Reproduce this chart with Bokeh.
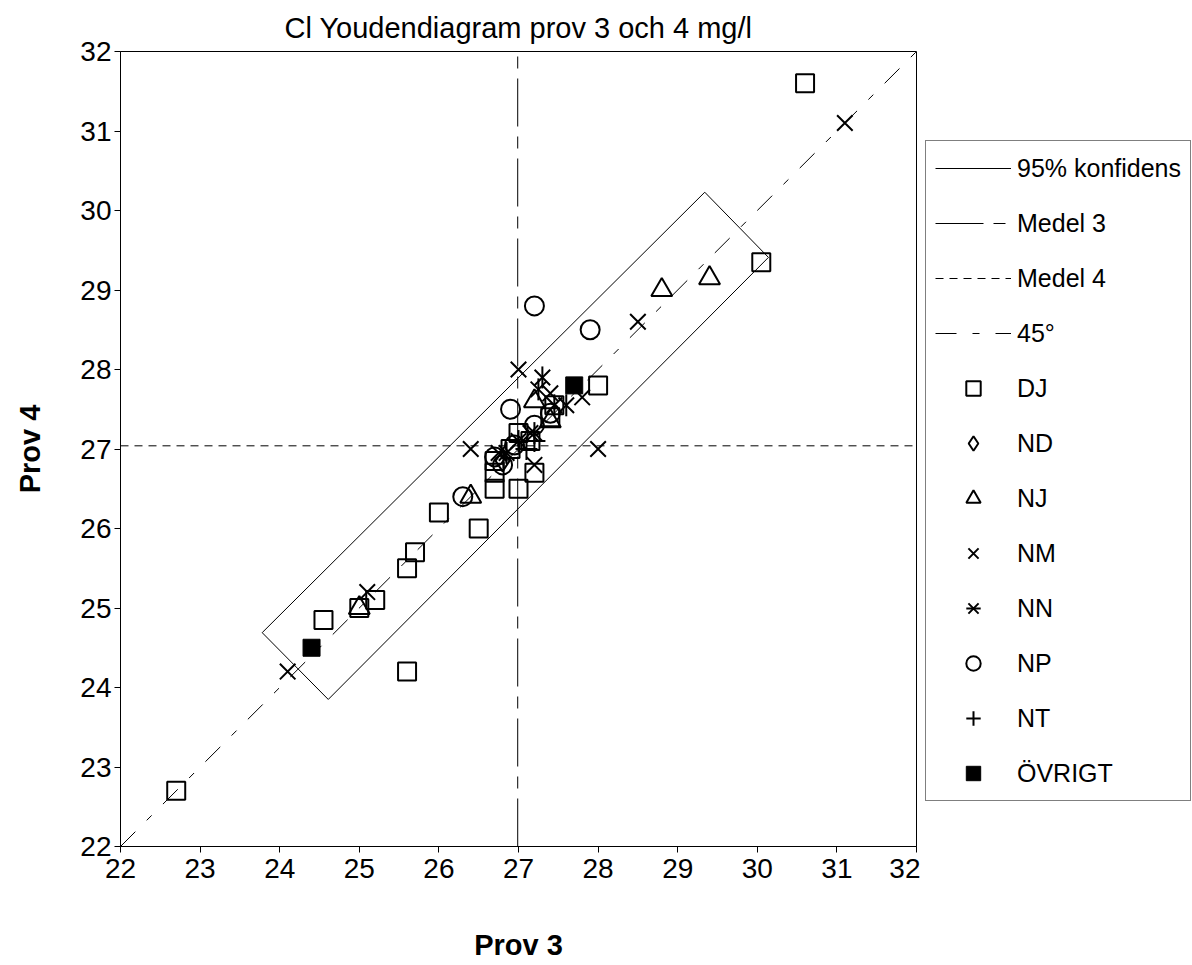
import math
from bokeh.plotting import figure
from bokeh.layouts import row
from bokeh.models import Legend, LegendItem, Range1d, FixedTicker
from bokeh.embed import file_html
from bokeh.resources import INLINE

# ---------------- data ----------------
title_text = "Cl Youdendiagram prov 3 och 4 mg/l"
x_label = "Prov 3"
y_label = "Prov 4"
ticks = [22, 23, 24, 25, 26, 27, 28, 29, 30, 31, 32]

mean3 = 26.99
mean4 = 27.04

# 95 % confidence rectangle corners
conf_x = [23.78, 24.61, 30.14, 29.34, 23.78]
conf_y = [24.69, 23.85, 29.41, 30.23, 24.69]

DJ_x = [22.7, 24.55, 25.0, 25.2, 25.6, 25.7, 25.6, 26.0, 26.5, 26.7, 26.7, 26.7, 27.0, 26.9, 27.2, 27.0, 27.15, 27.4, 27.45, 28.0, 30.05, 30.6]
DJ_y = [22.7, 24.85, 25.0, 25.1, 25.5, 25.7, 24.2, 26.2, 26.0, 26.5, 26.7, 26.85, 26.5, 27.0, 26.7, 27.2, 27.1, 27.4, 27.55, 27.8, 29.35, 31.6]

ND_x = [26.8]
ND_y = [26.85]

NJ_x = [25.0, 26.4, 27.2, 27.4, 28.8, 29.4]
NJ_y = [25.0, 26.4, 27.6, 27.35, 29.0, 29.15]

NM_x = [24.1, 25.1, 26.4, 26.75, 27.0, 27.2, 27.15, 27.4, 27.8, 28.0, 28.5, 31.1]
NM_y = [24.2, 25.2, 27.0, 26.95, 28.0, 26.8, 27.2, 27.7, 27.65, 27.0, 28.6, 31.1]

NN_x = [26.85, 27.0, 27.2, 27.25, 27.3, 27.45, 27.6]
NN_y = [26.95, 27.1, 27.2, 27.75, 27.9, 27.55, 27.55]

NP_x = [26.3, 26.7, 26.8, 26.95, 27.2, 26.9, 27.9, 27.2, 27.4]
NP_y = [26.4, 26.9, 26.8, 27.05, 27.3, 27.5, 28.5, 28.8, 27.45]

NT_x = [27.2, 27.1]
NT_y = [27.1, 27.0]

OV_x = [24.4, 27.7]
OV_y = [24.5, 27.8]

legend_labels = ["95% konfidens", "Medel 3", "Medel 4", "45\u00b0", "DJ", "ND",
                 "NJ", "NM", "NN", "NP", "NT", "\u00d6VRIGT"]

# ---------------- styles ----------------
FONT = "Liberation Sans"
LW = 2
LINE_STYLES = {
    "conf": dict(line_color="black", line_width=1),
    "m3": dict(line_color="black", line_width=1, line_dash="48 10 12 10"),
    "m4": dict(line_color="black", line_width=1, line_dash="8 6"),
    "d45": dict(line_color="black", line_width=1, line_dash="21 16 7 16"),
}
HOLLOW = dict(fill_color="white", fill_alpha=0, line_color="black", line_width=LW)
MARKER_STYLES = {
    "DJ": [dict(marker="square", size=18, **HOLLOW)],
    "ND": [dict(marker="diamond", size=21, **HOLLOW)],
    "NJ": [dict(marker="triangle", size=21, **HOLLOW)],
    "NM": [dict(marker="x", size=22, line_color="black", line_width=LW)],
    "NN": [dict(marker="x", size=22, line_color="black", line_width=LW),
           dict(marker="dash", angle=math.pi / 2, size=22, line_color="black", line_width=LW)],
    "NP": [dict(marker="circle", size=19, **HOLLOW)],
    "NT": [dict(marker="cross", size=22, line_color="black", line_width=LW)],
    "OV": [dict(marker="square", size=17, fill_color="black", line_color="black", line_width=1)],
}

lo, hi = ticks[0], ticks[-1]

# ---------------- main figure ----------------
p = figure(width=920, height=965, output_backend="svg", toolbar_location=None,
           x_range=Range1d(lo, hi), y_range=Range1d(lo, hi),
           min_border_left=120, min_border_right=4,
           min_border_top=51, min_border_bottom=119,
           background_fill_color="white", border_fill_color="white")

p.grid.visible = False
p.outline_line_color = "black"
p.outline_line_width = 1

p.title.text = title_text
p.title.align = "center"
p.title.text_font = FONT
p.title.text_font_size = "29px"
p.title.text_font_style = "normal"
p.title.text_color = "black"
p.title.standoff = 16

for ax in (p.xaxis, p.yaxis):
    ax.ticker = FixedTicker(ticks=ticks)
    ax.minor_tick_line_color = None
    ax.major_tick_in = 0
    ax.major_tick_out = 6
    ax.major_tick_line_color = "black"
    ax.axis_line_color = "black"
    ax.major_label_text_font = FONT
    ax.major_label_text_font_size = "28px"
    ax.major_label_text_color = "black"
    ax.axis_label_text_font = FONT
    ax.axis_label_text_font_size = "29px"
    ax.axis_label_text_font_style = "bold"
    ax.axis_label_text_color = "black"

p.xaxis.axis_label = x_label
p.yaxis.axis_label = y_label
p.xaxis.axis_label_standoff = 48
p.yaxis.axis_label_standoff = 31
p.xaxis.major_label_standoff = 6
p.yaxis.major_label_standoff = 3

p.line(conf_x, conf_y, **LINE_STYLES["conf"])
p.line([mean3, mean3], [lo, hi], **LINE_STYLES["m3"])
p.line([lo, hi], [mean4, mean4], **LINE_STYLES["m4"])
p.line([lo, hi], [lo, hi], **LINE_STYLES["d45"])

series = {"DJ": (DJ_x, DJ_y), "ND": (ND_x, ND_y), "NJ": (NJ_x, NJ_y),
          "NM": (NM_x, NM_y), "NN": (NN_x, NN_y), "NP": (NP_x, NP_y),
          "NT": (NT_x, NT_y), "OV": (OV_x, OV_y)}
for key, (xs, ys) in series.items():
    for st in MARKER_STYLES[key]:
        p.scatter(xs, ys, **st)

# ---------------- legend panel (second figure; its own view shows no data) ----------------
p2 = figure(width=272, height=965, output_backend="svg", toolbar_location=None,
            x_range=Range1d(0, 1), y_range=Range1d(0, 1),
            x_axis_type=None, y_axis_type=None, min_border=0,
            min_border_top=51, min_border_bottom=119,
            outline_line_color=None, background_fill_color="white",
            border_fill_color="white")
p2.grid.visible = False

leg_renderers = [
    [p2.line(conf_x, conf_y, **LINE_STYLES["conf"])],
    [p2.line([mean3, mean3], [lo, hi], **LINE_STYLES["m3"])],
    [p2.line([lo, hi], [mean4, mean4], **LINE_STYLES["m4"])],
    [p2.line([lo, hi], [lo, hi], **LINE_STYLES["d45"])],
]
for key in ["DJ", "ND", "NJ", "NM", "NN", "NP", "NT", "OV"]:
    xs, ys = series[key]
    leg_renderers.append([p2.scatter(xs, ys, **st) for st in MARKER_STYLES[key]])

items = [LegendItem(label=lab, renderers=rs) for lab, rs in zip(legend_labels, leg_renderers)]

legend = Legend(items=items, location=(5, 45),
                border_line_color="black", border_line_width=1,
                background_fill_color="white", background_fill_alpha=1,
                glyph_width=76, glyph_height=36, label_height=36, label_width=160,
                spacing=19, padding=9, margin=0, label_standoff=6,
                label_text_font=FONT, label_text_font_size="25px",
                label_text_color="black")
p2.add_layout(legend, "center")

layout = row(p, p2, spacing=0)
open("out.html", "w").write(file_html(layout, INLINE))
